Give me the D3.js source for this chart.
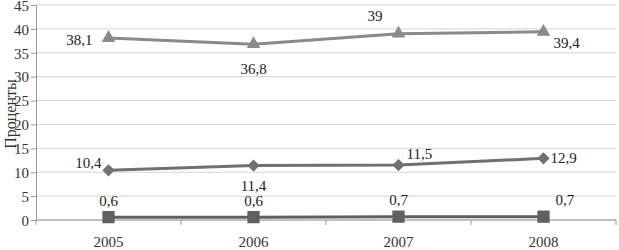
<!DOCTYPE html>
<html><head><meta charset="utf-8">
<script src="https://cdn.jsdelivr.net/npm/d3@7"></script>
<style>body{margin:0;background:#fff}</style>
</head><body><svg id="c" width="619" height="250"></svg>
<script>
const categories = ["2005","2006","2007","2008"];
const seriesTriangle = [38.1, 36.8, 39, 39.4];
const seriesDiamond = [10.4, 11.4, 11.5, 12.9];
const seriesSquare = [0.6, 0.6, 0.7, 0.7];
const yTicks = [0,5,10,15,20,25,30,35,40,45];
const labelTexts = {
  tri: ["38,1","36,8","39","39,4"],
  dia: ["10,4","11,4","11,5","12,9"],
  sq: ["0,6","0,6","0,7","0,7"]
};
const yTitle = "Проценты";
const FONT = "'Liberation Serif','Times New Roman','DejaVu Serif',serif";

const svg = d3.select("#c");
const L = 36, R = 616, T = 5, B = 220;
const x = d3.scaleBand().domain(categories).range([L, R]);
const y = d3.scaleLinear().domain([0, 45]).range([B, T]);

// gridlines
svg.append("g").selectAll("line").data(yTicks).join("line")
  .attr("x1", L).attr("x2", R).attr("y1", d => y(d)).attr("y2", d => y(d))
  .attr("stroke", "#d4d4d4").attr("stroke-width", 1);

// y axis
const ya = svg.append("g").attr("transform", `translate(${L},0)`)
  .call(d3.axisLeft(y).tickValues(yTicks).tickSize(5).tickFormat(d => d));
ya.attr("font-family", null);
ya.select(".domain").attr("stroke", "#999");
ya.selectAll(".tick line").attr("stroke", "#999");
ya.selectAll("text").attr("font-size", 15).attr("x", -7).attr("dy", "0.35em")
  .style("font-family", FONT).attr("fill", "#333");

// x axis
const xa = svg.append("g").attr("transform", `translate(0,${B})`);
xa.append("line").attr("x1", L).attr("x2", R).attr("stroke", "#999");
const bounds = categories.map(c => x(c)).concat([R]);
xa.selectAll("line.t").data(bounds).join("line").attr("class","t")
  .attr("x1", d => d).attr("x2", d => d).attr("y1", 0).attr("y2", 5).attr("stroke", "#999");
xa.selectAll("text").data(categories).join("text")
  .attr("x", d => x(d) + x.bandwidth()/2).attr("y", 27).attr("text-anchor", "middle")
  .style("font-family", FONT).attr("font-size", 15).attr("fill", "#333").text(d => d);

// y title
svg.append("text").attr("transform", `translate(16,114) rotate(-90)`)
  .attr("text-anchor", "middle").style("font-family", FONT).attr("font-size", 16)
  .attr("fill", "#333").text(yTitle);

const cx = d => x(d) + x.bandwidth()/2;
const line = d3.line().x((d,i) => cx(categories[i])).y(d => y(d));

function drawSeries(vals, color, shape, size) {
  svg.append("path").datum(vals).attr("d", line).attr("fill", "none")
    .attr("stroke", color).attr("stroke-width", 3);
  svg.append("g").selectAll("path").data(vals).join("path")
    .attr("transform", (d,i) => `translate(${cx(categories[i])},${y(d)})`)
    .attr("d", d3.symbol().type(shape).size(size)).attr("fill", color);
}
drawSeries(seriesTriangle, "#8a8a8a", d3.symbolTriangle, 80);
drawSeries(seriesDiamond, "#707070", d3.symbolDiamond2 || d3.symbolDiamond, 95);
drawSeries(seriesSquare, "#606060", d3.symbolSquare, 150);

// label placements (dx, dy relative to the point, anchor)
const placeTri = [[-16,7,"end"],[0,30,"middle"],[-16,-13,"end"],[10,16,"start"]];
const placeDia = [[-7,-2,"end"],[0,25,"middle"],[8,-6,"start"],[7,5,"start"]];
const placeSq = [[0,-11,"middle"],[0,-11,"middle"],[0,-12,"middle"],[12,-12,"start"]];

function drawLabels(vals, texts, place) {
  svg.append("g").selectAll("text").data(vals).join("text")
    .attr("x", (d,i) => cx(categories[i]) + place[i][0])
    .attr("y", (d,i) => y(d) + place[i][1])
    .attr("text-anchor", (d,i) => place[i][2])
    .style("font-family", FONT).attr("font-size", 15).attr("fill", "#222")
    .text((d,i) => texts[i]);
}
drawLabels(seriesTriangle, labelTexts.tri, placeTri);
drawLabels(seriesDiamond, labelTexts.dia, placeDia);
drawLabels(seriesSquare, labelTexts.sq, placeSq);
</script></body></html>
